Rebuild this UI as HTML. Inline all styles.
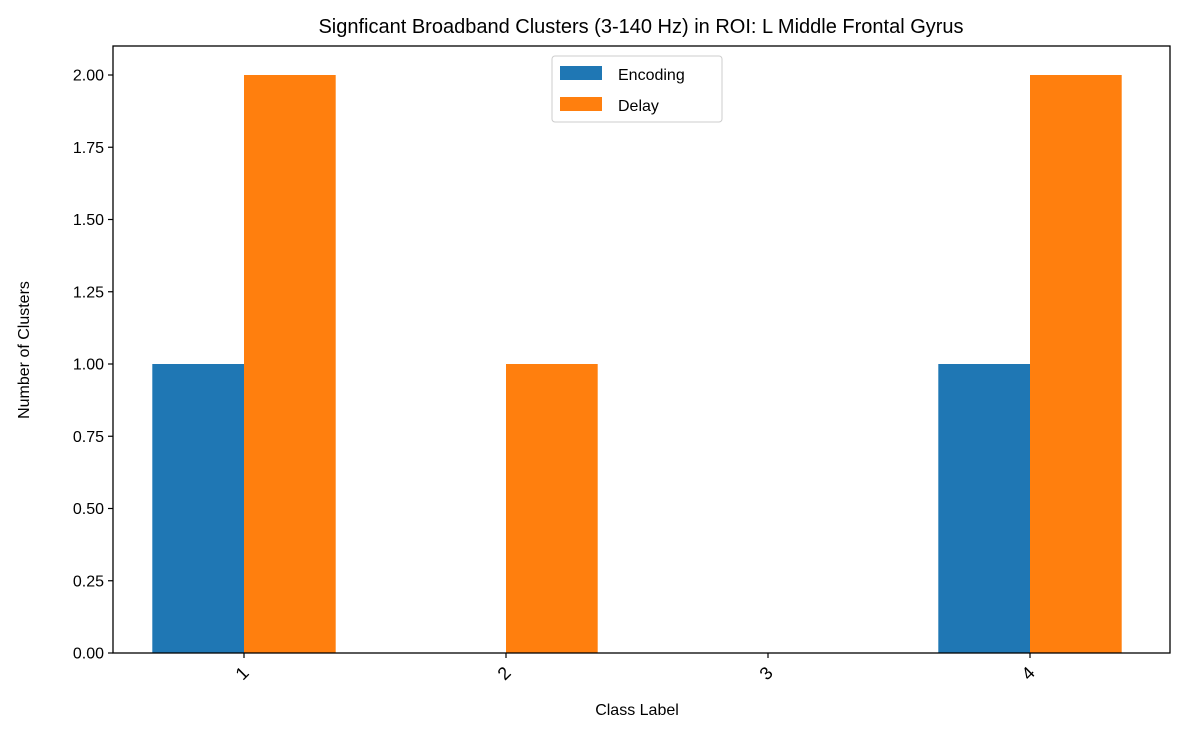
<!DOCTYPE html>
<html><head><meta charset="utf-8"><style>
html,body{margin:0;padding:0;background:#fff;}
svg{display:block;font-family:"Liberation Sans","DejaVu Sans",sans-serif;}
</style></head><body>
<svg id="chart" width="1184" height="734" viewBox="0 0 1184 734">
<text x="641" y="33" font-size="20" text-anchor="middle" fill="#000">Signficant Broadband Clusters (3-140 Hz) in ROI: L Middle Frontal Gyrus</text>
<g id="bars"></g>
<rect x="113" y="46" width="1057" height="607" fill="none" stroke="#000" stroke-width="1.3"/>
<g id="yaxis"></g>
<g id="xaxis"></g>
<text x="637" y="715" font-size="16" text-anchor="middle">Class Label</text>
<text transform="translate(29,350) rotate(-90)" font-size="16" text-anchor="middle">Number of Clusters</text>
<g>
<rect x="552" y="56" width="170" height="66" rx="3" fill="#fff" stroke="#ccc" stroke-width="1"/>
<rect x="560" y="66" width="42" height="14" fill="#1f77b4"/>
<text x="618" y="80" font-size="16">Encoding</text>
<rect x="560" y="97" width="42" height="14" fill="#ff7f0e"/>
<text x="618" y="111" font-size="16">Delay</text>
</g>
</svg>
<script>
const categories = ["1","2","3","4"];
const encoding = [1, 0, 0, 1];
const delay = [2, 1, 0, 2];
const yTicks = [0,0.25,0.5,0.75,1.0,1.25,1.5,1.75,2.0];
const NS="http://www.w3.org/2000/svg";
const y = v => 653 - v*289;
const x = i => 244 + i*262;
const bw = 91.7;
function mk(tag, attrs, parent){const e=document.createElementNS(NS,tag);for(const k in attrs)e.setAttribute(k,attrs[k]);parent.appendChild(e);return e;}
const bars=document.getElementById('bars');
categories.forEach((c,i)=>{
  const a=mk('rect',{x:x(i)-bw,y:y(encoding[i]),width:bw,height:653-y(encoding[i]),fill:'#1f77b4'},bars);
  
  
  const b=mk('rect',{x:x(i),y:y(delay[i]),width:bw,height:653-y(delay[i]),fill:'#ff7f0e'},bars);
  
  
});
const ya=document.getElementById('yaxis');
yTicks.forEach(t=>{
  const l=mk('line',{x1:108,x2:113,y1:y(t),y2:y(t),stroke:'#000','stroke-width':1.2},ya);
  
  
  const tx=mk('text',{x:104,y:y(t)+5.5,'font-size':16,'text-anchor':'end'},ya);
  tx.textContent=t.toFixed(2);
  
  
});
const xa=document.getElementById('xaxis');
categories.forEach((c,i)=>{
  const l=mk('line',{x1:x(i),x2:x(i),y1:653,y2:658,stroke:'#000','stroke-width':1.2},xa);
  
  
  const tx=mk('text',{x:0,y:0,'font-size':18,'text-anchor':'end',transform:`translate(${x(i)+6},${674}) rotate(-45)`},xa);
  tx.textContent=c;
  
  
});
</script>
</body></html>
